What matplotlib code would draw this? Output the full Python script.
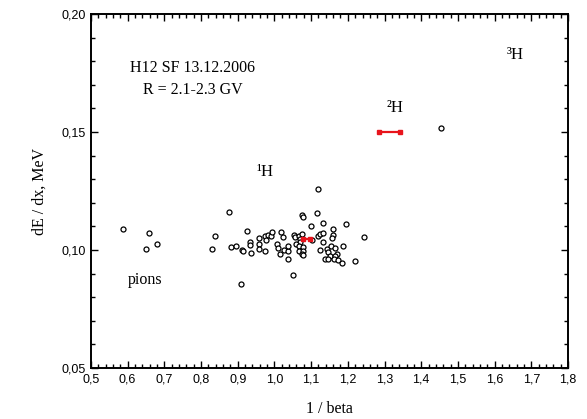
import matplotlib
matplotlib.use("Agg")
import matplotlib.pyplot as plt
from matplotlib.ticker import MultipleLocator, FuncFormatter

# pion events
pion_x = [0.587, 0.658, 0.650, 0.680]
pion_y = [0.1089, 0.1072, 0.1004, 0.1025]

# 1H events
h1_x = [0.876, 0.838, 0.829, 0.882, 0.896, 0.911, 0.915, 0.926, 0.909, 0.934,
        0.934, 0.935, 0.957, 0.957, 0.957, 0.975, 0.983, 0.990, 0.994, 0.977,
        0.975, 1.007, 1.010, 1.017, 1.022, 1.014, 1.025, 1.037, 1.038, 1.037,
        1.051, 1.052, 1.055, 1.067, 1.074, 1.071, 1.070, 1.059, 1.066, 1.078,
        1.068, 1.079, 1.074, 1.079, 1.076, 1.077, 1.116, 1.100, 1.120, 1.101,
        1.120, 1.123, 1.133, 1.133, 1.131, 1.125, 1.143, 1.146, 1.152, 1.137,
        1.147, 1.159, 1.159, 1.156, 1.153, 1.164, 1.171, 1.164, 1.161, 1.172,
        1.185, 1.188, 1.195, 1.220, 1.245]
h1_y = [0.1161, 0.1059, 0.1004, 0.1013, 0.1015, 0.1000, 0.0994, 0.1079, 0.0858, 0.1034,
        0.1021, 0.0989, 0.1051, 0.1024, 0.1006, 0.1061, 0.1064, 0.1058, 0.1076, 0.1044,
        0.0994, 0.1025, 0.1008, 0.1075, 0.1053, 0.0981, 0.0999, 0.0996, 0.1015, 0.0963,
        0.0895, 0.1062, 0.1056, 0.1059, 0.1068, 0.1047, 0.1035, 0.1027, 0.1017, 0.1013,
        0.0996, 0.0996, 0.0981, 0.0980, 0.1148, 0.1140, 0.1157, 0.1103, 0.1257, 0.1042,
        0.1059, 0.1068, 0.1071, 0.1113, 0.1036, 0.1001, 0.1006, 0.0992, 0.0976, 0.0961,
        0.0960, 0.1088, 0.1063, 0.1050, 0.1016, 0.1008, 0.0983, 0.0973, 0.0960, 0.0958,
        0.0944, 0.1015, 0.1109, 0.0953, 0.1054]

# 2H event
h2_x = [1.454]
h2_y = [0.1517]

# red horizontal bars (expected positions)
red_lo = [1.078, 1.286]
red_hi = [1.096, 1.343]
red_y = [0.1048, 0.1500]

serif = 'Liberation Serif'

fig = plt.figure(figsize=(5.87, 4.19), dpi=100)
ax = fig.add_axes([0.155, 0.1217, 0.8126, 0.8449])

all_x = pion_x + h1_x + h2_x
all_y = pion_y + h1_y + h2_y
ax.plot(all_x, all_y, linestyle='none', marker='o', markersize=3.6,
        markerfacecolor='white', markeredgecolor='black', markeredgewidth=0.9)

for lo, hi, yy in zip(red_lo, red_hi, red_y):
    ax.plot([lo, hi], [yy, yy], color='#e8141c', linewidth=1.6,
            marker='s', markersize=2.5, zorder=3)

ax.set_xlim(0.5, 1.8)
ax.set_ylim(0.05, 0.20)
ax.xaxis.set_major_locator(MultipleLocator(0.1))
ax.xaxis.set_minor_locator(MultipleLocator(0.02))
ax.yaxis.set_major_locator(MultipleLocator(0.05))
ax.yaxis.set_minor_locator(MultipleLocator(0.01))
ax.xaxis.set_major_formatter(FuncFormatter(lambda v, p: f"{v:.1f}".replace('.', ',')))
ax.yaxis.set_major_formatter(FuncFormatter(lambda v, p: f"{v:.2f}".replace('.', ',')))
ax.tick_params(which='both', direction='in', top=True, right=True, width=1.0,
               labelsize=9, pad=4)
ax.tick_params(which='major', length=5)
ax.tick_params(which='minor', length=3)
for lbl in ax.get_xticklabels() + ax.get_yticklabels():
    lbl.set_fontfamily('Liberation Sans')
for s in ax.spines.values():
    s.set_linewidth(1.4)

ax.set_xlabel('1 / beta', fontfamily=serif, fontsize=11.5, labelpad=11)
ax.set_ylabel('dE / dx, MeV', fontfamily=serif, fontsize=11.5, labelpad=10)

ax.text(0.778, 0.1771, 'H12 SF 13.12.2006', ha='center', va='center',
        fontfamily=serif, fontsize=11.5)
ax.text(0.778, 0.1678, 'R = 2.1-2.3 GV', ha='center', va='center',
        fontfamily=serif, fontsize=11.5)
ax.text(0.647, 0.0873, 'pions', ha='center', va='center', fontfamily=serif, fontsize=11.5)
ax.text(0.975, 0.1331, '\u00b9H', ha='center', va='center', fontfamily=serif, fontsize=12)
ax.text(1.329, 0.1602, '\u00b2H', ha='center', va='center', fontfamily=serif, fontsize=12)
ax.text(1.656, 0.1826, '\u00b3H', ha='center', va='center', fontfamily=serif, fontsize=12)

fig.savefig('out.png', dpi=100)
